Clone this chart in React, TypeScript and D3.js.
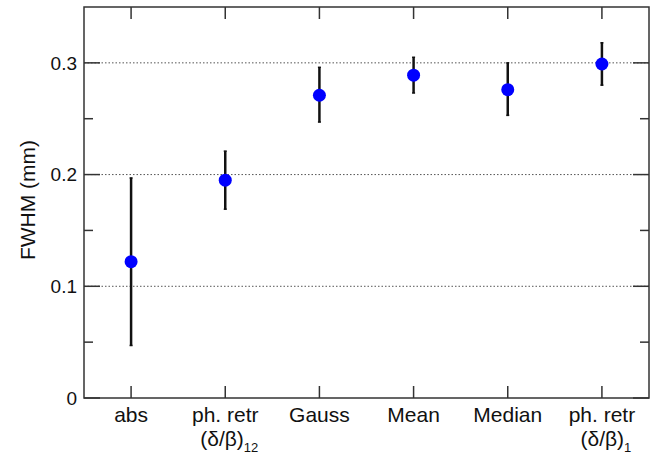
import React, { useRef, useEffect } from 'react';
import * as d3 from 'd3';

const categories = ['abs', 'ph. retr|12', 'Gauss', 'Mean', 'Median', 'ph. retr|1'];
const fwhm = [0.122, 0.195, 0.271, 0.289, 0.276, 0.299];
const errLow = [0.047, 0.169, 0.247, 0.273, 0.253, 0.28];
const errHigh = [0.197, 0.221, 0.296, 0.305, 0.3, 0.318];
const yTicks = [0, 0.1, 0.2, 0.3];
const yMinor = [0.05, 0.15, 0.25];

const W = 655;
const H = 457;
const margin = { left: 84, top: 7, right: 6, bottom: 59 };

function App() {
  const svgRef = useRef<SVGSVGElement>(null);

  useEffect(() => {
    const svg = d3.select(svgRef.current);
    svg.selectAll('*').remove();
    const font = 'Helvetica, Arial, "Liberation Sans", sans-serif';

    const x = d3
      .scaleLinear()
      .domain([0.5, categories.length + 0.5])
      .range([margin.left, W - margin.right]);
    const y = d3
      .scaleLinear()
      .domain([0, 0.35])
      .range([H - margin.bottom, margin.top]);

    const x0 = x.range()[0];
    const x1 = x.range()[1];
    const y0 = y.range()[0];
    const y1 = y.range()[1];

    // grid
    svg
      .selectAll('.grid')
      .data(yTicks.filter((t) => t > 0))
      .join('line')
      .attr('x1', x0)
      .attr('x2', x1)
      .attr('y1', (d) => y(d))
      .attr('y2', (d) => y(d))
      .attr('stroke', '#555')
      .attr('stroke-width', 1)
      .attr('stroke-dasharray', '1.5,2');

    const g = svg.append('g').attr('stroke', '#333').attr('stroke-width', 1.5);

    // y ticks, both sides
    yTicks.forEach((t) => {
      g.append('line').attr('x1', x0).attr('x2', x0 + 16).attr('y1', y(t)).attr('y2', y(t));
      g.append('line').attr('x1', x1).attr('x2', x1 - 16).attr('y1', y(t)).attr('y2', y(t));
    });
    yMinor.forEach((t) => {
      g.append('line').attr('x1', x0).attr('x2', x0 + 9).attr('y1', y(t)).attr('y2', y(t));
      g.append('line').attr('x1', x1).attr('x2', x1 - 9).attr('y1', y(t)).attr('y2', y(t));
    });
    // x ticks, bottom and top
    categories.forEach((_, i) => {
      g.append('line').attr('x1', x(i + 1)).attr('x2', x(i + 1)).attr('y1', y0).attr('y2', y0 - 12);
      g.append('line').attr('x1', x(i + 1)).attr('x2', x(i + 1)).attr('y1', y1).attr('y2', y1 + 12);
    });

    // frame
    svg
      .append('rect')
      .attr('x', x0)
      .attr('y', y1)
      .attr('width', x1 - x0)
      .attr('height', y0 - y1)
      .attr('fill', 'none')
      .attr('stroke', '#333')
      .attr('stroke-width', 1.5);

    // y tick labels
    svg
      .selectAll('.ylab')
      .data(yTicks)
      .join('text')
      .attr('x', x0 - 7)
      .attr('y', (d) => y(d))
      .attr('dy', '0.36em')
      .attr('text-anchor', 'end')
      .attr('font-family', font)
      .attr('font-size', 19)
      .attr('fill', '#111')
      .text((d) => (d === 0 ? '0' : d.toFixed(1)));

    // x labels
    categories.forEach((c, i) => {
      const [name, sub] = c.split('|');
      svg
        .append('text')
        .attr('x', x(i + 1))
        .attr('y', y0 + 24)
        .attr('text-anchor', 'middle')
        .attr('font-family', font)
        .attr('font-size', 21)
        .attr('fill', '#111')
        .text(name);
      if (sub) {
        const t2 = svg
          .append('text')
          .attr('x', x(i + 1) + 4)
          .attr('y', y0 + 48)
          .attr('text-anchor', 'middle')
          .attr('font-family', font)
          .attr('font-size', 21)
          .attr('fill', '#111');
        t2.append('tspan').text('(δ/β)');
        t2.append('tspan').attr('font-size', 13).attr('dy', 6).text(sub);
      }
    });

    // y axis title
    svg
      .append('text')
      .attr('transform', `translate(28,200) rotate(-90)`)
      .attr('text-anchor', 'middle')
      .attr('dy', '0.35em')
      .attr('font-family', font)
      .attr('font-size', 21)
      .attr('fill', '#111')
      .text('FWHM (mm)');

    // error bars
    const idx = d3.range(categories.length);
    svg
      .selectAll('.err')
      .data(idx)
      .join('line')
      .attr('x1', (i) => x(i + 1))
      .attr('x2', (i) => x(i + 1))
      .attr('y1', (i) => y(errLow[i]))
      .attr('y2', (i) => y(errHigh[i]))
      .attr('stroke', '#111')
      .attr('stroke-width', 2.5);
    [errLow, errHigh].forEach((arr) => {
      svg
        .append('g')
        .selectAll('line')
        .data(idx)
        .join('line')
        .attr('x1', (i) => x(i + 1) - 1.5)
        .attr('x2', (i) => x(i + 1) + 1.5)
        .attr('y1', (i) => y(arr[i]))
        .attr('y2', (i) => y(arr[i]))
        .attr('stroke', '#111')
        .attr('stroke-width', 1.5);
    });

    // points
    svg
      .selectAll('.pt')
      .data(idx)
      .join('circle')
      .attr('cx', (i) => x(i + 1))
      .attr('cy', (i) => y(fwhm[i]))
      .attr('r', 6.5)
      .attr('fill', '#0000ff');
  }, []);

  return (
    <div style={{ position: 'absolute', left: 0, top: 0 }}>
      <svg ref={svgRef} width={W} height={H} style={{ display: 'block', background: '#fff' }}></svg>
    </div>
  );
}

export default App;
